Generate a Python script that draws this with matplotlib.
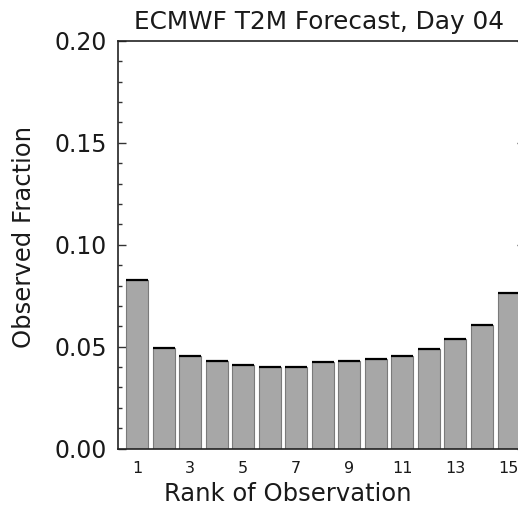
import matplotlib
matplotlib.use("Agg")
import matplotlib.pyplot as plt
import numpy as np

# rank histogram values
ranks = list(range(1, 16))
fractions = [0.0826, 0.0493, 0.0452, 0.0428, 0.0408, 0.0399, 0.0400, 0.0423,
             0.0428, 0.0437, 0.0452, 0.0490, 0.0539, 0.0606, 0.0763]
xtick_vals = [1, 3, 5, 7, 9, 11, 13, 15]
ytick_vals = [0.00, 0.05, 0.10, 0.15, 0.20]

plt.rcParams['font.family'] = ['DejaVu Sans']
plt.rcParams['text.color'] = '#1a1a1a'

W, H = 518, 519
fig = plt.figure(figsize=(W / 100, H / 100), dpi=100)
# axes runs a little past the right edge, as in the reference
ax = fig.add_axes([118 / W, 1 - 448.5 / H, (525 - 118) / W, 407.5 / H])

ax.bar(ranks, fractions, width=0.83, color='#a7a7a7', edgecolor='#7a7a7a',
       linewidth=0.8, zorder=2)
ax.hlines(fractions, np.array(ranks) - 0.415, np.array(ranks) + 0.415,
          color='black', linewidth=1.6, zorder=3)

ax.set_xlim(0.284, 15.62)
ax.set_ylim(0, 0.20)
ax.set_xticks(xtick_vals)
ax.set_yticks(ytick_vals)
ax.set_yticklabels([f'{v:.2f}' for v in ytick_vals])
ax.set_yticks(np.arange(0, 0.2001, 0.01), minor=True)

ax.tick_params(axis='y', which='both', direction='in', left=True, right=True,
               labelsize=17, pad=8, width=1, color='#333333',
               labelcolor='#1a1a1a')
ax.tick_params(axis='y', which='major', length=5.8)
ax.tick_params(axis='y', which='minor', length=2.9)
ax.tick_params(axis='x', length=0, labelsize=11.5, pad=9, labelcolor='#1a1a1a')

for s in ax.spines.values():
    s.set_linewidth(1.2)
    s.set_color('#222222')

fig.text(319 / W, 1 - 22 / H, 'ECMWF T2M Forecast, Day 04', ha='center',
         va='center', fontsize=17.8)
fig.text(288 / W, 1 - 494 / H, 'Rank of Observation', ha='center',
         va='center', fontsize=17.5)
fig.text(24 / W, 1 - 237 / H, 'Observed Fraction', ha='center',
         va='center', rotation=90, fontsize=17.5)

fig.savefig('out.png', dpi=100)
